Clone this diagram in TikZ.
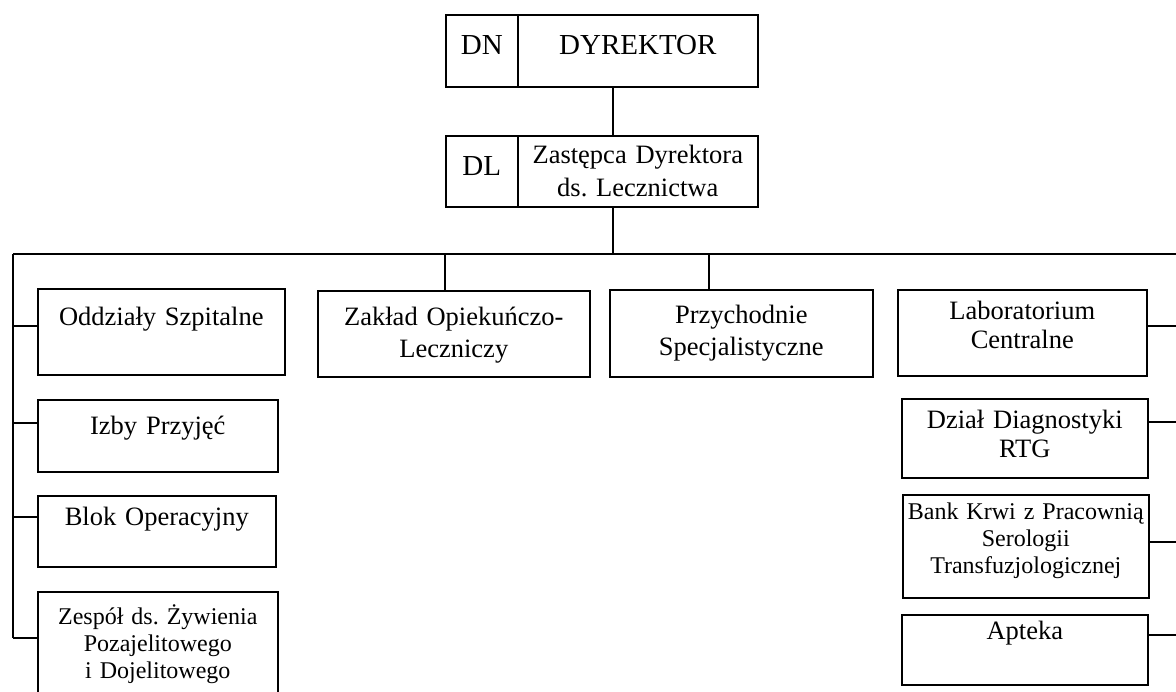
\documentclass[tikz,border=0pt]{standalone}
\usepackage{fontspec}
\setmainfont{Liberation Serif}
\usepackage{tikz}
\frenchspacing

\begin{document}
\begin{tikzpicture}[x=1pt,y=-1pt,
  unit/.style={draw, line width=1.6pt, inner sep=0pt, anchor=north west, align=center, font=\fontsize{26.5}{31}\selectfont},
  smalltext/.style={font=\fontsize{24}{27}\selectfont},
  bigtext/.style={font=\fontsize{29}{33}\selectfont},
  link/.style={line width=1.6pt}]
\useasboundingbox (0,0) rectangle (1176,692);
\clip (0,0) rectangle (1176,692);

\node[unit, bigtext, text width=72pt, text height=40pt, text depth=32pt] (dn) at (445,14) {DN};
\node[unit, bigtext, text width=240pt, text height=40pt, text depth=32pt] (dyr) at (517,14) {DYREKTOR};
\node[unit, bigtext, text width=72pt, text height=40pt, text depth=31pt] (dl) at (445,135) {DL};
\node[unit, font=\fontsize{26.5}{33}\selectfont, text width=240pt, text height=28pt, text depth=43pt] (zas) at (517,135) {Zastępca Dyrektora\\ds. Lecznictwa};

\node[unit, text width=247pt, text height=37pt, text depth=49pt] (odz) at (37,288) {Oddziały Szpitalne};
\node[unit, text width=240pt, text height=35pt, text depth=37pt] (izb) at (37,399) {Izby Przyjęć};
\node[unit, text width=238pt, text height=30pt, text depth=41pt] (blk) at (37,495) {Blok Operacyjny};
\node[unit, smalltext, text width=240pt, text height=33pt, text depth=76pt] (zes) at (37,591) {Zespół ds. Żywienia\\Pozajelitowego\\i Dojelitowego};

\node[unit, font=\fontsize{26.5}{32}\selectfont, text width=272pt, text height=35pt, text depth=51pt] (zak) at (317,290) {Zakład Opiekuńczo-\\Leczniczy};
\node[unit, font=\fontsize{26.5}{32}\selectfont, text width=263pt, text height=34pt, text depth=53pt] (prz) at (609,289) {Przychodnie\\Specjalistyczne};

\node[unit, font=\fontsize{26.5}{29}\selectfont, text width=249pt, text height=30pt, text depth=56pt] (lab) at (897,289) {Laboratorium\\Centralne};
\node[unit, font=\fontsize{26.5}{29}\selectfont, text width=246pt, text height=30pt, text depth=49pt] (dzi) at (901,398) {Dział Diagnostyki\\RTG};
\node[unit, smalltext, text width=246pt, text height=25pt, text depth=78pt] (ban) at (902,494) {Bank Krwi z Pracownią\\Serologii\\Transfuzjologicznej};
\node[unit, text width=246pt, text height=25pt, text depth=45pt] (apt) at (901,614) {Apteka};

\coordinate (trunk) at (613,254);
\coordinate (busL) at (13,254);
\coordinate (busR) at (1176,254);
\coordinate (s1) at (445,254);
\coordinate (s2) at (709,254);

\draw[link] (dyr.south -| trunk) -- (zas.north -| trunk);
\draw[link] (zas.south -| trunk) -- (trunk);
\draw[link] (busL) -- (busR);
\draw[link] (s1) -- (s1 |- zak.north);
\draw[link] (s2) -- (s2 |- prz.north);

\draw[link] (busL) -- (busL |- 0,638);
\foreach \n/\y in {odz/326, izb/423, blk/517, zes/638}
  \draw[link] (busL |- 0,\y) -- (\n.west |- 0,\y);
\foreach \n/\y in {lab/326, dzi/422, ban/542, apt/635}
  \draw[link] (\n.east |- 0,\y) -- (busR |- 0,\y);
\end{tikzpicture}
\end{document}
